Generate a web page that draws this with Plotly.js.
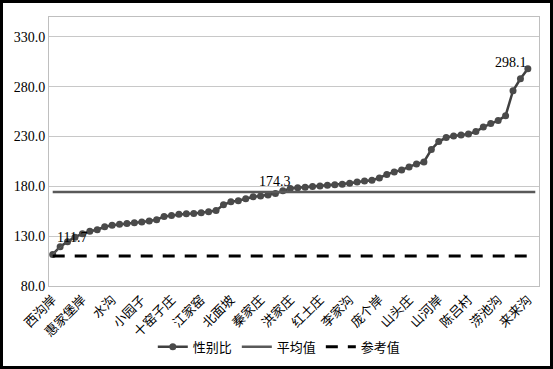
<!DOCTYPE html>
<html>
<head>
<meta charset="utf-8">
<script src="https://cdn.plot.ly/plotly-3.0.1.min.js"></script>
<style>
  html, body { margin: 0; padding: 0; background: #fff; }
  #wrap { position: relative; width: 553px; height: 369px; }
  #chart { width: 553px; height: 369px; }
  #frame { position: absolute; left: 0; top: 0; width: 553px; height: 369px; box-sizing: border-box; border: 3px solid #000; pointer-events: none; }
</style>
</head>
<body>
<div id="wrap"><div id="chart"></div><div id="frame"></div></div>
<script>
// Sex ratio per village, sorted ascending (65 villages); only every 4th name is labelled on the axis
const ratioValues = [
  111.7, 119.5, 124.5, 129.0, 132.5, 135.0, 136.5, 139.5, 141.0, 142.0,
  142.8, 143.5, 144.3, 145.2, 146.5, 149.8, 150.8, 152.0, 152.5, 152.8,
  153.5, 154.5, 155.8, 161.5, 164.5, 165.5, 167.5, 169.5, 170.3, 171.3,
  172.8, 175.5, 177.8, 178.6, 179.2, 179.8, 180.4, 181.0, 181.6, 182.2,
  183.2, 184.3, 185.3, 186.2, 188.5, 192.0, 194.5, 196.5, 199.5, 202.5,
  204.5, 217.0, 225.0, 229.0, 230.5, 231.5, 232.5, 235.0, 239.5, 243.0,
  246.0, 251.0, 276.0, 288.0, 298.1
];
const categoryCount = 66;          // category slots on the axis
const meanValue = 174.3;           // 平均值
const referenceValue = 110.0;      // 参考值
const tickPositions = [0, 4, 8, 12, 16, 20, 24, 28, 32, 36, 40, 44, 48, 52, 56, 60, 64];
const tickLabels = ['西沟岸', '惠家堡岸', '水沟', '小园子', '十窑子庄', '江家窑', '北面坡', '秦家庄',
  '洪家庄', '红土庄', '李家沟', '庞个岸', '山头庄', '山河岸', '陈吕村', '涝池沟', '来来沟'];
const yTicks = [80, 130, 180, 230, 280, 330];

const xs = ratioValues.map((v, i) => i);
const lastIdx = categoryCount - 1;

const serif = '"Liberation Serif", "Times New Roman", "Noto Sans CJK SC", serif';
const cjk = '"Liberation Serif", "Noto Sans CJK SC", serif';

const traces = [
  {
    x: xs, y: ratioValues, name: '性别比', type: 'scatter', mode: 'lines+markers',
    line: { color: '#404040', width: 2.5 },
    marker: { color: '#4a4a4a', size: 7 }
  },
  {
    x: [0, lastIdx], y: [meanValue, meanValue], name: '平均值', type: 'scatter', mode: 'lines',
    line: { color: '#595959', width: 2.5 }
  },
  {
    x: [0, lastIdx], y: [referenceValue, referenceValue], name: '参考值', type: 'scatter', mode: 'lines',
    line: { color: '#000000', width: 3, dash: '12px,10px' }
  }
];

const layout = {
  width: 553, height: 369,
  margin: { l: 49, r: 14, t: 17, b: 83, autoexpand: false },
  paper_bgcolor: '#ffffff', plot_bgcolor: '#ffffff',
  showlegend: true,
  legend: {
    orientation: 'h', x: 0.47, xanchor: 'center', yref: 'container', y: 0.06, yanchor: 'middle',
    font: { family: cjk, size: 13, color: '#000' }, itemwidth: 30, tracegroupgap: 0
  },
  xaxis: {
    range: [-0.5, categoryCount - 0.5], automargin: false,
    tickmode: 'array', tickvals: tickPositions, ticktext: tickLabels,
    tickangle: -45, tickfont: { family: cjk, size: 13, color: '#000' },
    showgrid: false, zeroline: false,
    showline: true, linecolor: '#bfbfbf', linewidth: 1, mirror: true,
    ticks: ''
  },
  yaxis: {
    range: [80, 350], automargin: false,
    tickmode: 'array', tickvals: yTicks, ticktext: yTicks.map(v => v.toFixed(1)),
    tickfont: { family: serif, size: 14, color: '#000' },
    showgrid: true, gridcolor: '#c8c8c8', gridwidth: 1, zeroline: false,
    showline: true, linecolor: '#bfbfbf', linewidth: 1, mirror: true,
    ticks: ''
  },
  annotations: [
    {
      x: 0, y: ratioValues[0], text: ratioValues[0].toFixed(1),
      showarrow: true, arrowhead: 0, arrowwidth: 0.8, arrowcolor: '#666',
      ax: 19, ay: -17, font: { family: serif, size: 14, color: '#000' }
    },
    {
      x: 30, y: meanValue, text: meanValue.toFixed(1), showarrow: false,
      yanchor: 'bottom', yshift: 1, font: { family: serif, size: 14, color: '#000' }
    },
    {
      x: ratioValues.length - 1, y: ratioValues[ratioValues.length - 1],
      text: ratioValues[ratioValues.length - 1].toFixed(1), showarrow: false,
      xanchor: 'right', yanchor: 'bottom', xshift: 1, yshift: -3,
      font: { family: serif, size: 14, color: '#000' }
    }
  ]
};

Plotly.newPlot('chart', traces, layout, { displayModeBar: false, staticPlot: true });
</script>
</body>
</html>
